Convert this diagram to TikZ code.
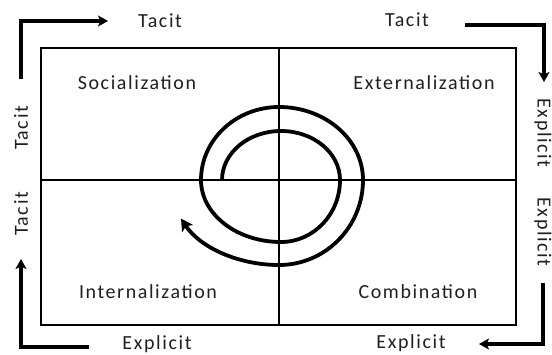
\documentclass[tikz,border=0pt]{standalone}
\usepackage{fontspec}
\setmainfont{Carlito}[LetterSpace=8]
\usetikzlibrary{arrows.meta}
\begin{document}
\begin{tikzpicture}[x=1pt,y=1pt,
  lbl/.style={font=\fontsize{20}{22}\selectfont, text=black!88, inner sep=0pt},
  flow/.style={line width=3.2pt, -{Stealth[length=10pt,width=11pt,inset=2.5pt]}},
  grid/.style={line width=1.2pt}]
\useasboundingbox (0,0) rectangle (552,354);
% frame
\node[draw, grid, minimum width=475pt, minimum height=277pt, inner sep=0pt] (box) at (278.5,167.5) {};
\coordinate (mx) at (279,174);
\draw[grid] (box.north -| mx) -- (box.south -| mx);
\draw[grid] (box.west |- mx) -- (box.east |- mx);
% quadrant labels
\node[lbl] (soc) at (137,271) {Socialization};
\node[lbl] (ext) at (424,271) {Externalization};
\node[lbl] (int) at (148,62) {Internalization};
\node[lbl] (com) at (418,62) {Combination};
% outer labels
\node[lbl] (t1) at (160,333) {Tacit};
\node[lbl] (t2) at (407,334) {Tacit};
\node[lbl, rotate=-90] (e1) at (543,221) {Explicit};
\node[lbl, rotate=-90] (e2) at (543,122) {Explicit};
\node[lbl] (e3) at (411,11) {Explicit};
\node[lbl] (e4) at (157,10) {Explicit};
\node[lbl, rotate=90] (t3) at (21,226) {Tacit};
\node[lbl, rotate=90] (t4) at (21,140) {Tacit};
% outer arrows
\coordinate (a1) at (21,275); \coordinate (a1e) at (108,333);
\draw[flow] (a1) |- (a1e);
\coordinate (a2) at (465,329); \coordinate (a2e) at (544,272);
\draw[flow] (a2) -| (a2e);
\coordinate (a3) at (543,71); \coordinate (a3e) at (479,10);
\draw[flow] (a3) |- (a3e);
\coordinate (a4) at (89,7); \coordinate (a4e) at (21,95);
\draw[flow] (a4) -| (a4e);
% spiral
\coordinate (s0) at (222,174);
\draw[line width=3.8pt, -{Stealth[length=12pt,width=13pt,inset=3pt]}]
  (s0) arc[start angle=180,end angle=0,x radius=59,y radius=49]
  arc[start angle=0,end angle=-90,x radius=59,y radius=62]
  arc[start angle=-90,end angle=-180,x radius=80,y radius=62]
  arc[start angle=180,end angle=90,x radius=78,y radius=73]
  arc[start angle=90,end angle=0,x radius=84,y radius=73]
  arc[start angle=0,end angle=-90,x radius=84,y radius=85]
  arc[start angle=-90,end angle=-153,x radius=110,y radius=85];
\end{tikzpicture}
\end{document}
